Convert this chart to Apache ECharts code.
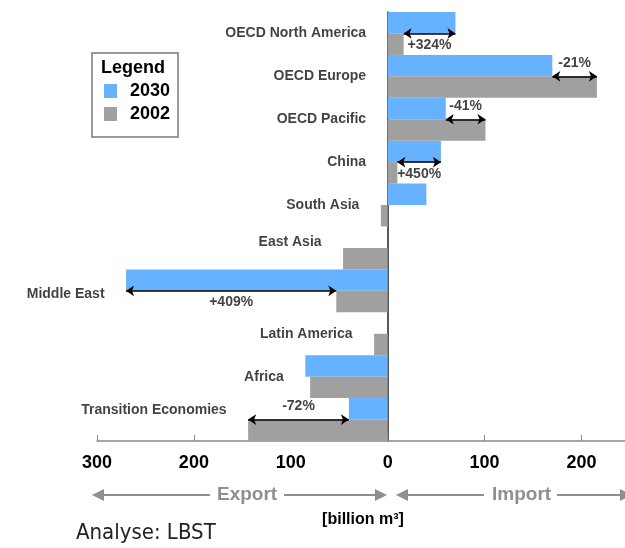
<!DOCTYPE html>
<html>
<head>
<meta charset="utf-8">
<script src="https://cdn.jsdelivr.net/npm/echarts@6/dist/echarts.min.js"></script>
<style>
  html, body { margin: 0; padding: 0; background: #fff; }
  #chart { width: 625px; height: 548px; }
</style>
</head>
<body>
<div id="chart"></div>
<script>
// regions, top to bottom
const regions = [
  "OECD North America", "OECD Europe", "OECD Pacific", "China", "South Asia",
  "East Asia", "Middle East", "Latin America", "Africa", "Transition Economies"
]
// net gas trade, billion m³ (import > 0, export < 0)
const v2030 = [70, 170, 60, 55, 40, 0, -270, 0, -85, -40]
const v2002 = [16.5, 216, 101, 10, -7, -46, -53, -14, -80, -144]

// change 2002 -> 2030 shown with arrows
const changeRegions = ["OECD North America", "OECD Europe", "OECD Pacific", "China", "Middle East", "Transition Economies"]
const changeText = ["+324%", "-21%", "-41%", "+450%", "+409%", "-72%"]

const xTicks = [-300, -200, -100, 0, 100, 200]

const BLUE = "#66b2ff"
const GREY = "#a0a0a0"
const FONT = "Liberation Sans, Arial, sans-serif"

const chart = echarts.init(document.getElementById("chart"))

// label placement tweaks (style only)
const nameNudge = { "East Asia": -6, "Middle East": 3, "Transition Economies": -9 }
const textAbove = { "OECD Europe": true, "OECD Pacific": true, "Transition Economies": true }

const nameData = regions.map((r, i) => ({
  name: r,
  value: [Math.min(0, v2030[i], v2002[i]), i],
  label: { offset: [0, nameNudge[r] || 0] }
}))

const arrowData = changeRegions.map((r) => {
  const i = regions.indexOf(r)
  return { coords: [[v2002[i], i], [v2030[i], i]] }
})

const pctData = changeRegions.map((r, k) => {
  const i = regions.indexOf(r)
  return {
    name: changeText[k],
    value: [(v2002[i] + v2030[i]) / 2, i],
    label: { position: textAbove[r] ? "top" : "bottom", distance: textAbove[r] ? 6 : 4 }
  }
})

const grey = "#8f8f8f"
const arrowGraphic = (x, y, dir) => ({
  type: "polygon",
  shape: { points: dir < 0 ? [[x, y], [x + 12, y - 6], [x + 12, y + 6]] : [[x, y], [x - 12, y - 6], [x - 12, y + 6]] },
  style: { fill: grey }
})
const hLine = (x1, x2, y) => ({
  type: "line",
  shape: { x1: x1, y1: y, x2: x2, y2: y },
  style: { stroke: grey, lineWidth: 2 }
})

const option = {
  animation: false,
  textStyle: { fontFamily: FONT },
  grid: { left: 97, right: 0, top: 12, bottom: 107, containLabel: false },
  legend: {
    data: ["2030", "2002"],
    orient: "vertical",
    left: 92,
    top: 53,
    borderColor: "#999",
    borderWidth: 2,
    padding: [29, 8, 14, 12],
    icon: "rect",
    itemWidth: 13,
    itemHeight: 14,
    itemGap: 5,
    selectedMode: false,
    textStyle: { fontFamily: FONT, fontSize: 18, fontWeight: "bold", color: "#000", padding: [0, 0, 0, 8] }
  },
  xAxis: {
    type: "value",
    min: -300,
    max: 245,
    interval: 100,
    axisLine: { show: true, lineStyle: { color: "#8a8a8a", width: 1.5 } },
    axisTick: { show: true, inside: true, length: 6, lineStyle: { color: "#8a8a8a" } },
    axisLabel: {
      showMaxLabel: false,
      margin: 13,
      fontFamily: FONT,
      fontSize: 18,
      fontWeight: "bold",
      color: "#000",
      formatter: (v) => (xTicks.includes(v) ? String(Math.abs(v)) : "")
    },
    splitLine: { show: false }
  },
  yAxis: {
    type: "category",
    inverse: true,
    data: regions,
    axisLine: { show: true, onZero: true, lineStyle: { color: "#222", width: 1.5 } },
    axisTick: { show: false },
    axisLabel: { show: false },
    splitLine: { show: false }
  },
  series: [
    {
      name: "2030",
      type: "bar",
      data: v2030,
      barGap: "0%",
      barCategoryGap: "0%",
      itemStyle: { color: BLUE },
      z: 2
    },
    {
      name: "2002",
      type: "bar",
      data: v2002,
      barGap: "0%",
      barCategoryGap: "0%",
      itemStyle: { color: GREY },
      z: 2
    },
    {
      name: "names",
      type: "scatter",
      symbolSize: 1,
      itemStyle: { color: "rgba(0,0,0,0)" },
      data: nameData,
      label: {
        show: true,
        position: "left",
        distance: 21,
        formatter: "{b}",
        fontFamily: FONT,
        fontSize: 14,
        fontWeight: "bold",
        color: "#111"
      },
      silent: true,
      z: 5
    },
    {
      name: "arrows",
      type: "lines",
      coordinateSystem: "cartesian2d",
      symbol: ["arrow", "arrow"],
      symbolSize: 8,
      lineStyle: { color: "#000", width: 1.5, opacity: 1 },
      data: arrowData,
      silent: true,
      z: 6
    },
    {
      name: "pct",
      type: "scatter",
      symbolSize: 1,
      itemStyle: { color: "rgba(0,0,0,0)" },
      data: pctData,
      label: {
        show: true,
        formatter: "{b}",
        fontFamily: FONT,
        fontSize: 14,
        fontWeight: "bold",
        color: "#111"
      },
      silent: true,
      z: 6
    }
  ],
  graphic: [
    { type: "text", left: 101, top: 59, style: { text: "Legend", font: "bold 18px " + FONT, fill: "#000" } },
    // Export / Import arrows under the axis
    arrowGraphic(92, 495, -1),
    hLine(104, 210, 495),
    { type: "text", left: 217, top: 485, style: { text: "Export", font: "bold 19px " + FONT, fill: grey } },
    hLine(284, 375, 495),
    arrowGraphic(387, 495, 1),
    arrowGraphic(396, 495, -1),
    hLine(408, 484, 495),
    { type: "text", left: 492, top: 485, style: { text: "Import", font: "bold 19px " + FONT, fill: grey } },
    hLine(557, 620, 495),
    arrowGraphic(632, 495, 1),
    { type: "text", x: 363, y: 520, style: { text: "[billion m³]", font: "bold 16px " + FONT, fill: "#000", align: "center", verticalAlign: "middle" } },
    { type: "text", x: 76, y: 533, style: { text: "Analyse: LBST", font: "22px 'Liberation Sans Narrow', 'DejaVu Sans Condensed', sans-serif", fill: "#222", verticalAlign: "middle" } }
  ]
}

chart.setOption(option)
</script>
</body>
</html>
